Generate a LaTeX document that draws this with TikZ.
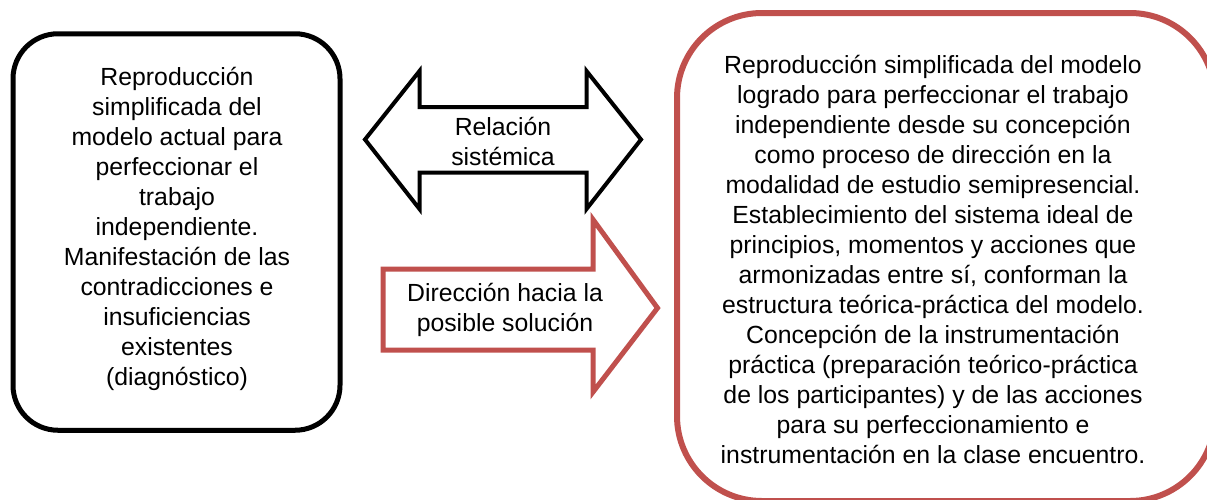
\documentclass[tikz,border=0pt]{standalone}
\usepackage{fontspec}
\setmainfont{Liberation Sans}
\definecolor{accred}{HTML}{C0504D}
\tikzset{
  txt/.style={font=\fontsize{24.8}{30}\selectfont, align=center, inner sep=0pt, text=black},
  blackbox/.style={draw=black, line width=5pt, rounded corners=45pt, rectangle, inner sep=0pt},
  redbox/.style={draw=accred, line width=6pt, rounded corners=85pt, rectangle, inner sep=0pt},
  dblarrow/.style={draw=black, line width=4pt, fill=white, line join=miter},
  redarrow/.style={draw=accred, line width=5pt, fill=white, line join=miter},
}
\begin{document}
\begin{tikzpicture}[x=1pt,y=-1pt]
\useasboundingbox (0,0) rectangle (1207,499);
\clip (0,0) rectangle (1207,499);
% left box
\node[blackbox, minimum width=327pt, minimum height=396.5pt] (lbox) at (176.5,232) {};
\node[txt] (ltext) at (177,229) {Reproducción\\simplificada del\\modelo actual para\\perfeccionar el\\trabajo\\independiente.\\Manifestación de las\\contradicciones e\\insuficiencias\\existentes\\(diagnóstico)};
% right box
\node[redbox, minimum width=538pt, minimum height=488pt] (rbox) at (946,257) {};
\node[txt] (rtext) at (933,259) {Reproducción simplificada del modelo\\logrado para perfeccionar el trabajo\\independiente desde su concepción\\como proceso de dirección en la\\modalidad de estudio semipresencial.\\Establecimiento del sistema ideal de\\principios, momentos y acciones que\\armonizadas entre sí, conforman la\\estructura teórica-práctica del modelo.\\Concepción de la instrumentación\\práctica (preparación teórico-práctica\\de los participantes) y de las acciones\\para su perfeccionamiento e\\instrumentación en la clase encuentro.};
% double arrow
\path[dblarrow] (365,139.5) -- (419.5,71) -- (419.5,107) -- (586.5,107) -- (586.5,71) -- (641,139.5) -- (586.5,209) -- (586.5,172.5) -- (419.5,172.5) -- (419.5,209) -- cycle;
\node[txt] (dtext) at (503,141) {Relación\\sistémica};
% red arrow
\path[redarrow] (383,269) -- (593,269) -- (593,219.5) -- (657.5,308) -- (593,392) -- (593,350) -- (383,350) -- cycle;
\node[txt] (rtxt) at (505,310) {Dirección hacia la\\posible solución};
\end{tikzpicture}
\end{document}
